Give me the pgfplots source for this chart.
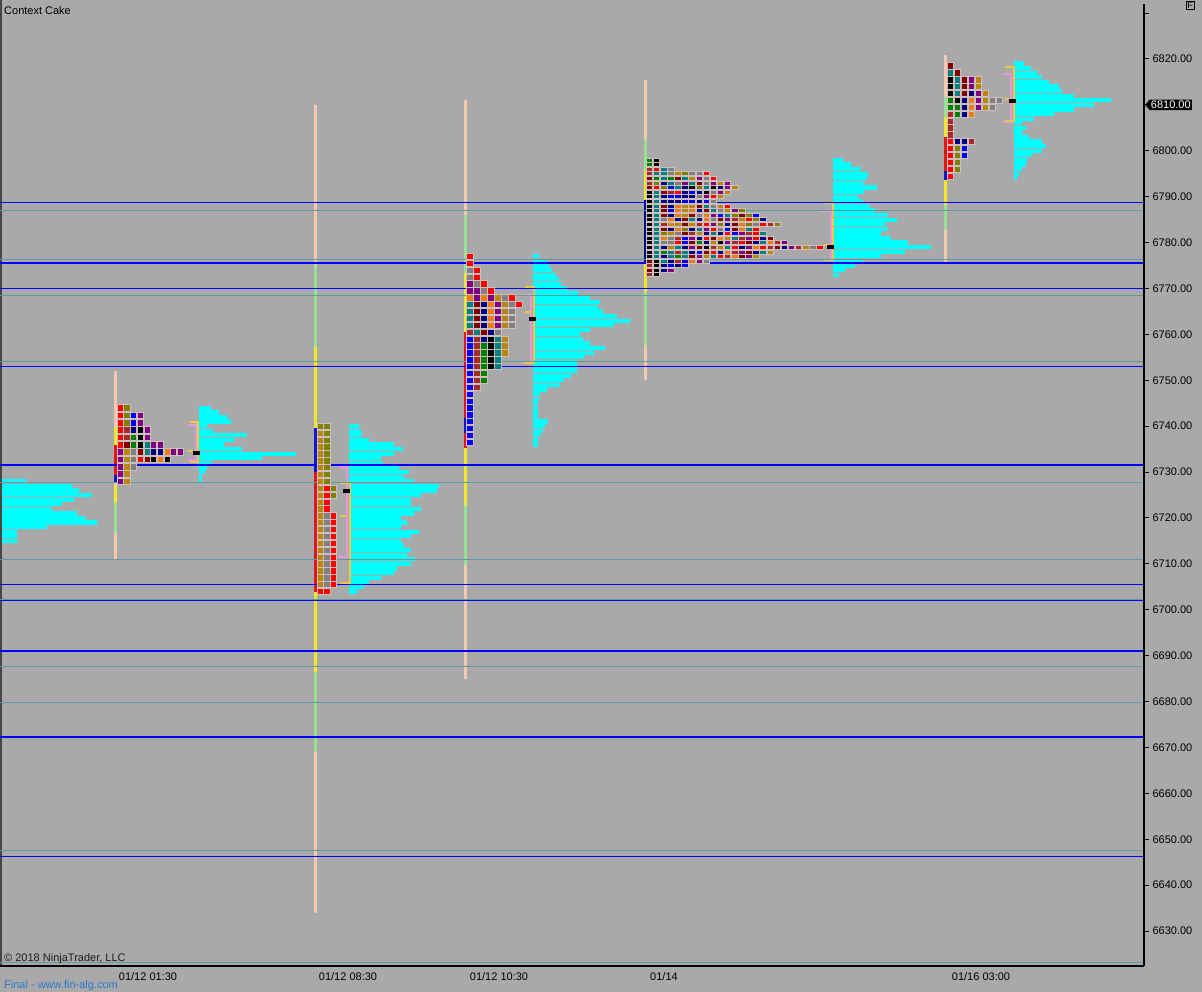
\documentclass[border=0pt]{standalone}
\usepackage{pgfplots}
\pgfplotsset{compat=1.18}
\usepackage{pgfplotstable}
\usepackage{fontspec}
\setmainfont{Liberation Sans}
\usetikzlibrary{shapes.symbols}

\definecolor{bg}{RGB}{169,169,169}
\definecolor{peach}{RGB}{245,200,180}
\definecolor{lgreen}{RGB}{150,225,150}
\definecolor{yel}{RGB}{240,232,40}
\definecolor{hblue}{RGB}{0,0,255}
\definecolor{hteal}{RGB}{95,155,158}
\definecolor{vaY}{RGB}{240,200,70}
\definecolor{vaP}{RGB}{232,150,222}
\definecolor{cellb}{RGB}{205,190,190}
\definecolor{vcyan}{RGB}{0,255,255}
\definecolor{vred}{RGB}{230,20,20}
\definecolor{vblue}{RGB}{20,20,200}
\definecolor{vnavy}{RGB}{0,0,140}
\definecolor{linkblue}{RGB}{45,120,205}

\definecolor{tc1}{RGB}{255,0,0}
\definecolor{tc2}{RGB}{128,128,0}
\definecolor{tc3}{RGB}{0,0,255}
\definecolor{tc4}{RGB}{128,0,128}
\definecolor{tc5}{RGB}{0,0,0}
\definecolor{tc6}{RGB}{0,128,0}
\definecolor{tc7}{RGB}{0,128,128}
\definecolor{tc8}{RGB}{128,128,128}
\definecolor{tc9}{RGB}{128,0,0}
\definecolor{tc10}{RGB}{235,125,20}
\definecolor{tc11}{RGB}{184,134,11}
\definecolor{tc12}{RGB}{0,0,128}
\definecolor{tc13}{RGB}{165,42,42}

\pgfdeclareplotmark{tpoA}{\pgfpathrectangle{\pgfpoint{-3.05pt}{-3.35pt}}{\pgfpoint{6.1pt}{6.7pt}}\pgfusepathqfillstroke}
\pgfdeclareplotmark{tpoB}{\pgfpathrectangle{\pgfpoint{-3.05pt}{-3.15pt}}{\pgfpoint{6.1pt}{6.3pt}}\pgfusepathqfillstroke}
\pgfdeclareplotmark{tpoC}{\pgfpathrectangle{\pgfpoint{-3.2pt}{-3.15pt}}{\pgfpoint{6.4pt}{6.3pt}}\pgfusepathqfillstroke}
\pgfdeclareplotmark{tpoD}{\pgfpathrectangle{\pgfpoint{-3.25pt}{-2pt}}{\pgfpoint{6.5pt}{4pt}}\pgfusepathqfillstroke}

\pgfplotsset{tpo/.style={scatter, only marks, point meta=explicit symbolic,
  mark options={line width=0.5pt, draw=cellb},
  scatter/classes={
    1={fill=tc1, draw=cellb}, 2={fill=tc2, draw=cellb}, 3={fill=tc3, draw=cellb},
    4={fill=tc4, draw=cellb}, 5={fill=tc5, draw=cellb}, 6={fill=tc6, draw=cellb},
    7={fill=tc7, draw=cellb}, 8={fill=tc8, draw=cellb}, 9={fill=tc9, draw=cellb},
    10={fill=tc10, draw=cellb}, 11={fill=tc11, draw=cellb}, 12={fill=tc12, draw=cellb},
    13={fill=tc13, draw=cellb}, 0={draw=none, fill=none}}}}

% ---------- TPO grids (colour index per column) ----------
\pgfplotstableread{
p c0 c1 c2 c3 c4 c5 c6 c7 c8 c9
6744.0 1 2 0 0 0 0 0 0 0 0
6742.4 1 2 3 4 0 0 0 0 0 0
6740.8 1 2 3 4 0 0 0 0 0 0
6739.2 1 13 12 5 4 0 0 0 0 0
6737.6 1 13 6 5 4 0 0 0 0 0
6736.0 1 9 6 5 7 4 4 0 0 0
6734.4 4 11 8 9 7 12 12 10 4 4
6732.8 4 11 8 1 9 5 10 5 0 0
6731.2 4 11 8 0 0 0 0 0 0 0
6729.6 4 11 0 0 0 0 0 0 0 0
6728.0 4 11 0 0 0 0 0 0 0 0
}\tpoAtab

\pgfplotstableread{
p c0 c1 c2
6740.0 2 2 0
6738.5 11 2 0
6737.0 11 2 0
6735.5 11 2 0
6734.0 11 2 0
6732.5 11 2 0
6731.0 11 2 0
6729.5 11 2 0
6728.0 11 2 0
6726.5 11 1 2
6725.0 11 1 2
6723.5 11 1 0
6722.0 11 1 0
6720.5 11 8 1
6719.0 11 8 1
6717.5 11 8 1
6716.0 11 8 1
6714.5 11 8 1
6713.0 11 8 1
6711.5 11 8 1
6710.0 11 8 1
6708.5 11 8 1
6707.0 11 8 1
6705.5 11 8 1
6704.0 1 1 0
}\tpoBtab

\pgfplotstableread{
p c0 c1 c2 c3 c4 c5 c6 c7
6777.0 1 0 0 0 0 0 0 0
6775.5 1 0 0 0 0 0 0 0
6774.0 8 1 0 0 0 0 0 0
6772.5 8 1 0 0 0 0 0 0
6771.0 4 8 1 0 0 0 0 0
6769.5 4 4 8 1 0 0 0 0
6768.0 10 4 10 4 11 8 1 0
6766.5 7 9 12 10 4 11 8 1
6765.0 7 9 12 10 4 11 8 0
6763.5 7 9 12 10 4 11 8 0
6762.0 7 9 12 10 4 11 8 0
6760.5 13 7 9 12 8 0 0 0
6759.0 3 13 12 5 7 11 0 0
6757.5 3 13 6 5 7 11 0 0
6756.0 3 13 6 5 7 11 0 0
6754.5 3 13 6 5 7 0 0 0
6753.0 3 13 6 5 7 0 0 0
6751.5 3 13 6 0 0 0 0 0
6750.0 3 13 6 0 0 0 0 0
6748.5 3 13 0 0 0 0 0 0
6747.0 3 0 0 0 0 0 0 0
6745.5 3 0 0 0 0 0 0 0
6744.0 3 0 0 0 0 0 0 0
6742.5 3 0 0 0 0 0 0 0
6741.0 3 0 0 0 0 0 0 0
6739.5 3 0 0 0 0 0 0 0
6738.0 3 0 0 0 0 0 0 0
6736.5 3 0 0 0 0 0 0 0
}\tpoCtab

\pgfplotstableread{
p c0 c1 c2 c3 c4 c5 c6 c7 c8 c9 c10 c11 c12 c13 c14 c15 c16 c17 c18 c19 c20 c21 c22 c23 c24
6798 6 5 0 0 0  0 0 0 0 0  0 0 0 0 0  0 0 0 0 0  0 0 0 0 0
6797 6 5 0 0 0  0 0 0 0 0  0 0 0 0 0  0 0 0 0 0  0 0 0 0 0
6796 13 1 7 8 0  0 0 0 0 0  0 0 0 0 0  0 0 0 0 0  0 0 0 0 0
6795 13 7 7 8 11  2 8 8 1 0  0 0 0 0 0  0 0 0 0 0  0 0 0 0 0
6794 9 6 7 6 9  7 11 4 8 1  0 0 0 0 0  0 0 0 0 0  0 0 0 0 0
6793 13 2 12 7 8  4 7 9 8 4  11 4 0 0 0  0 0 0 0 0  0 0 0 0 0
6792 9 1 2 3 7  12 5 2 7 5  12 4 11 0 0  0 0 0 0 0  0 0 0 0 0
6791 5 7 9 13 1  12 3 12 5 8  4 11 0 0 0  0 0 0 0 0  0 0 0 0 0
6790 5 7 12 3 3  12 12 8 4 1  11 0 0 0 0  0 0 0 0 0  0 0 0 0 0
6789 5 7 12 12 12  3 3 12 3 8  0 0 0 0 0  0 0 0 0 0  0 0 0 0 0
6788 5 7 9 12 10  11 11 9 7 8  11 1 0 0 0  0 0 0 0 0  0 0 0 0 0
6787 5 7 9 3 10  11 10 12 9 7  8 11 4 2 0  0 0 0 0 0  0 0 0 0 0
6786 5 7 9 12 10  11 9 8 10 4  3 7 2 9 2  3 0 0 0 0  0 0 0 0 0
6785 5 7 8 10 12  9 7 12 10 8  9 4 13 11 1  2 12 0 0 0  0 0 0 0 0
6784 5 7 13 10 11  9 11 13 1 4  2 12 9 10 2  8 1 13 2 0  0 0 0 0 0
6783 5 7 9 12 10  2 12 7 4 1  8 3 9 10 7  1 0 0 0 0  0 0 0 0 0
6782 5 7 2 11 8  9 13 11 12 7  12 1 3 4 13  1 7 0 0 0  0 0 0 0 0
6781 5 7 10 8 13  3 4 12 1 9  10 11 7 13 4  1 12 9 0 0  0 0 0 0 0
6780 5 7 8 8 1  3 9 6 12 11  5 4 13 1 9  12 7 10 13 4  0 0 0 0 0
6779 5 7 12 11 7  12 4 9 5 13  11 7 1 12 4  10 1 13 9 12  4 13 11 8 1
6778 5 7 6 7 13  7 12 3 9 1  12 10 13 4 9  12 7 11 0 0  0 0 0 0 0
6777 5 7 12 7 6  7 9 4 11 7  1 13 10 9 4  11 0 0 0 0  0 0 0 0 0
6776 9 5 7 12 13  3 10 4 8 0  0 0 0 0 0  0 0 0 0 0  0 0 0 0 0
6775 13 5 12 3 12  3 0 0 0 0  0 0 0 0 0  0 0 0 0 0  0 0 0 0 0
6774 9 5 12 4 0  0 0 0 0 0  0 0 0 0 0  0 0 0 0 0  0 0 0 0 0
6773 13 5 0 0 0  0 0 0 0 0  0 0 0 0 0  0 0 0 0 0  0 0 0 0 0
}\tpoDtab

\pgfplotstableread{
p c0 c1 c2 c3 c4 c5 c6 c7
6818.5 9 0 0 0 0 0 0 0
6817.0 7 9 0 0 0 0 0 0
6815.5 5 7 9 4 11 0 0 0
6814.0 5 7 9 4 11 0 0 0
6812.5 5 7 9 12 4 11 0 0
6811.0 6 5 12 10 4 11 8 8
6809.5 6 6 12 10 4 11 8 0
6808.0 13 6 12 10 0 0 0 0
6806.5 13 0 0 0 0 0 0 0
6805.0 13 0 0 0 0 0 0 0
6803.5 13 0 0 0 0 0 0 0
6802.0 1 12 12 13 0 0 0 0
6800.5 1 2 3 0 0 0 0 0
6799.0 1 2 3 0 0 0 0 0
6797.5 1 2 0 0 0 0 0 0
6796.0 1 2 0 0 0 0 0 0
6794.5 1 0 0 0 0 0 0 0
}\tpoEtab

% ---------- volume profiles (price, bar length) ----------
\pgfplotstableread{
p len
6728 25
6727 70
6726 77
6725 90
6724 72
6723 60
6722 50
6721 75
6720 83
6719 95
6718 45
6717 15
6716 15
6715 15
}\volZ

\pgfplotstableread{
p len
6744 12
6743 20
6742 28
6741 32
6740 8
6739 14
6738 48
6737 35
6736 25
6735 43
6734 97
6733 63
6732 13
6731 8
6730 6
6729 3
6728 3
}\volA

\pgfplotstableread{
p len
6740 10
6739 12
6738 13
6737 20
6736 45
6735 54
6734 45
6733 32
6732 34
6731 50
6730 60
6729 55
6728 65
6727 90
6726 88
6725 72
6724 62
6723 62
6722 72
6721 65
6720 52
6719 58
6718 52
6717 70
6716 62
6715 52
6714 55
6713 62
6712 58
6711 66
6710 62
6709 48
6708 45
6707 32
6706 20
6705 15
6704 8
}\volB

\pgfplotstableread{
p len
6777 6
6776 14
6775 16
6774 19
6773 23
6772 26
6771 28
6770 34
6769 45
6768 57
6767 67
6766 65
6765 70
6764 84
6763 97
6762 81
6761 57
6760 47
6759 50
6758 57
6757 72
6756 61
6755 51
6754 44
6753 44
6752 44
6751 38
6750 31
6749 27
6748 14
6747 7
6746 6
6745 5
6744 5
6743 5
6742 5
6741 15
6740 12
6739 10
6738 7
6737 5
6736 5
}\volC

\pgfplotstableread{
p len
6798 10
6797 18
6796 28
6795 35
6794 34
6793 30
6792 44
6791 31
6790 25
6789 30
6788 36
6787 42
6786 55
6785 64
6784 52
6783 55
6782 48
6781 58
6780 75
6779 98
6778 72
6777 48
6776 30
6775 22
6774 12
6773 6
}\volD

\pgfplotstableread{
p len
6819 10
6818 17
6817 23
6816 28
6815 35
6814 45
6813 48
6812 60
6811 97
6810 80
6809 60
6808 40
6807 20
6806 8
6805 12
6804 8
6803 15
6802 28
6801 32
6800 28
6799 18
6798 13
6797 12
6796 8
6795 5
6794 3
}\volE

\newcommand{\vseg}[4]{\addplot[#4, line width=3pt] coordinates {(#1,#2) (#1,#3)};}

\begin{document}
\begin{tikzpicture}
\fill[bg] (0pt,0pt) rectangle (1202pt,992pt);
\useasboundingbox (0pt,0pt) rectangle (1202pt,992pt);
\draw[color={rgb,255:red,70;green,70;blue,70}, line width=1.5pt] (0.75pt,26pt) -- (0.75pt,992pt);
\begin{axis}[
  at={(0pt,26pt)}, anchor=south west,
  scale only axis, width=1144pt, height=962pt,
  xmin=0, xmax=1144, ymin=6622.4, ymax=6831.98,
  axis x line*=bottom, axis y line*=right,
  axis line style={-, black, line width=1.3pt},
  xtick={148,348,499,664,981},
  xticklabels={01/12 01:30, 01/12 08:30, 01/12 10:30, 01/14, 01/16 03:00},
  x tick style={draw=none},
  xticklabel style={yshift=2pt},
  ytick={6630,6640,...,6820},
  extra y ticks={6830}, extra y tick labels={},
  y tick style={black, line width=1pt},
  tick align=outside, major tick length=5pt,
  tick label style={font=\fontsize{11}{13}\selectfont, text=black},
  /pgf/number format/assume math mode=true,
  yticklabel style={/pgf/number format/.cd, fixed, fixed zerofill, precision=2, 1000 sep={}},
  scaled y ticks=false,
  clip=false,
]
% volume profiles
\addplot[vcyan, line width=4.2pt, quiver={u=\thisrow{len}, v=0}, -] table[x expr=1.5, y=p] {\volZ};
\addplot[vcyan, line width=4.2pt, quiver={u=\thisrow{len}, v=0}, -] table[x expr=198.5, y=p] {\volA};
\addplot[vcyan, line width=4.2pt, quiver={u=\thisrow{len}, v=0}, -] table[x expr=348.5, y=p] {\volB};
\addplot[vcyan, line width=4.2pt, quiver={u=\thisrow{len}, v=0}, -] table[x expr=533, y=p] {\volC};
\addplot[vcyan, line width=4.2pt, quiver={u=\thisrow{len}, v=0}, -] table[x expr=832.5, y=p] {\volD};
\addplot[vcyan, line width=4.2pt, quiver={u=\thisrow{len}, v=0}, -] table[x expr=1013.5, y=p] {\volE};

% TPO letters
\pgfplotsinvokeforeach{0,...,9}{
  \addplot[tpo, mark=tpoA, restrict expr to domain={\thisrow{c#1}}{0.5:99}]
    table[x expr=120+#1*6.7, y=p, meta=c#1] {\tpoAtab};
}
\pgfplotsinvokeforeach{0,...,2}{
  \addplot[tpo, mark=tpoB, restrict expr to domain={\thisrow{c#1}}{0.5:99}]
    table[x expr=320+#1*6.7, y=p, meta=c#1] {\tpoBtab};
}
\pgfplotsinvokeforeach{0,...,7}{
  \addplot[tpo, mark=tpoC, restrict expr to domain={\thisrow{c#1}}{0.5:99}]
    table[x expr=469.8+#1*7, y=p, meta=c#1] {\tpoCtab};
}
\pgfplotsinvokeforeach{0,...,24}{
  \addplot[tpo, mark=tpoD, restrict expr to domain={\thisrow{c#1}}{0.5:99}]
    table[x expr=649.3+#1*7.1, y=p, meta=c#1] {\tpoDtab};
}
\pgfplotsinvokeforeach{0,...,7}{
  \addplot[tpo, mark=tpoC, restrict expr to domain={\thisrow{c#1}}{0.5:99}]
    table[x expr=950+#1*7, y=p, meta=c#1] {\tpoEtab};
}

% session range lines
\vseg{115}{6752.0}{6710.85}{peach}
\vseg{115}{6739.8}{6735.9}{yel}
\vseg{115}{6735.9}{6729.4}{vred}
\vseg{115}{6729.4}{6727.8}{vblue}
\vseg{115}{6727.2}{6723.3}{yel}
\vseg{115}{6723.3}{6716.7}{lgreen}

\vseg{315.5}{6810.0}{6633.9}{peach}
\vseg{315.5}{6775.1}{6757.3}{lgreen}
\vseg{315.5}{6757.3}{6739.6}{yel}
\vseg{315.5}{6739.6}{6730.0}{vblue}
\vseg{315.5}{6730.0}{6703.9}{vred}
\vseg{315.5}{6703.9}{6686.4}{yel}
\vseg{315.5}{6686.4}{6669.0}{lgreen}

\vseg{465}{6811.1}{6684.9}{peach}
\vseg{465}{6786.0}{6773.4}{lgreen}
\vseg{465}{6773.4}{6760.5}{yel}
\vseg{465}{6760.5}{6735.3}{vred}
\vseg{465}{6741.8}{6738.5}{vblue}
\vseg{465}{6735.3}{6722.8}{yel}
\vseg{465}{6722.8}{6709.8}{lgreen}

\vseg{645}{6815.4}{6750.1}{peach}
\vseg{645}{6802.4}{6795.8}{lgreen}
\vseg{645}{6795.8}{6789.3}{yel}
\vseg{645}{6789.3}{6775.8}{vnavy}
\vseg{645}{6775.8}{6769.2}{yel}
\vseg{645}{6769.2}{6757.7}{lgreen}

\vseg{945.5}{6820.9}{6775.8}{peach}
\vseg{945.5}{6811.7}{6807.4}{lgreen}
\vseg{945.5}{6807.4}{6803.0}{yel}
\vseg{945.5}{6803.0}{6793.6}{vred}
\vseg{945.5}{6795.7}{6793.6}{vblue}
\vseg{945.5}{6793.6}{6788.2}{yel}
\vseg{945.5}{6788.2}{6782.7}{lgreen}

% value area brackets and POC marks
\addplot[vaP, line width=2pt] coordinates {(187,6740.3) (196,6740.3) (196,6732.6) (187,6732.6)};
\addplot[vaY, line width=2pt] coordinates {(190,6740.9) (197.8,6740.9) (197.8,6732.2) (190,6732.2)};
\addplot[vaY, line width=1.5pt] coordinates {(188,6734.6) (193,6734.6)};
\addplot[black, line width=3.5pt] coordinates {(192.5,6734.2) (199.5,6734.2)};

\addplot[vaP, line width=2pt] coordinates {(338,6731.1) (347,6731.1) (347,6711.5) (338,6711.5)};
\addplot[vaY, line width=2pt] coordinates {(340,6727.6) (349.5,6727.6) (349.5,6705.8) (340,6705.8)};
\addplot[vaY, line width=1.5pt] coordinates {(340,6720.4) (346,6720.4)};
\addplot[black, line width=3.5pt] coordinates {(343,6725.9) (350,6725.9)};

\addplot[vaP, line width=2pt] coordinates {(522,6768.6) (531,6768.6) (531,6753.8) (522,6753.8)};
\addplot[vaY, line width=2pt] coordinates {(525,6770.3) (533.5,6770.3) (533.5,6753.8) (525,6753.8)};
\addplot[vaY, line width=1.5pt] coordinates {(525,6764.9) (531,6764.9)};
\addplot[black, line width=3.5pt] coordinates {(529,6763.4) (535.5,6763.4)};

\addplot[vaP, line width=2pt] coordinates {(820,6786.9) (831,6786.9) (831,6776.2) (822,6776.2)};
\addplot[vaY, line width=2pt] coordinates {(824,6788.6) (832.5,6788.6) (832.5,6776.2) (824,6776.2)};
\addplot[vaY, line width=1.5pt] coordinates {(824,6779.5) (830,6779.5)};
\addplot[black, line width=3.5pt] coordinates {(827,6779.0) (834,6779.0)};

\addplot[vaP, line width=2pt] coordinates {(1003,6816.7) (1011,6816.7) (1011,6806.3) (1003,6806.3)};
\addplot[vaY, line width=2pt] coordinates {(1005,6818.3) (1013.5,6818.3) (1013.5,6806.5) (1005,6806.5)};
\addplot[vaY, line width=1.5pt] coordinates {(1005,6811.3) (1010,6811.3)};
\addplot[black, line width=3.5pt] coordinates {(1009,6810.8) (1015.5,6810.8)};

% horizontal reference levels (teal, thin)
\pgfplotsinvokeforeach{6787.0,6776.25,6768.5,6754.0,6727.75,6711.0,6702.25,6687.75,6679.75,6647.5,6623.25}{
  \addplot[hteal, line width=1pt] coordinates {(0,#1) (1143,#1)};
}
% horizontal reference levels (blue)
\pgfplotsinvokeforeach{6788.75,6775.5,6770.0,6753.0,6731.5,6705.5,6702.0,6691.0,6672.25,6646.25}{
  \addplot[hblue, line width=1.5pt] coordinates {(0,#1) (1143,#1)};
}

\coordinate (lastpx) at (axis cs:1144,6810);
\end{axis}
\node[signal, signal to=west, signal pointer angle=100, fill=black, text=white, inner sep=1.3pt,
      anchor=west, font=\fontsize{11}{13}\selectfont] at ([xshift=1pt]lastpx) {6810.00};
\node[draw=black, line width=0.8pt, inner sep=1pt, anchor=north west, font=\fontsize{9}{10}\selectfont] at (1186pt,991pt) {F};
\node[anchor=west, inner sep=0pt, font=\fontsize{11}{13}\selectfont, text=black] at (4pt,981pt) {Context Cake};
\node[anchor=west, inner sep=0pt, font=\fontsize{11}{13}\selectfont, text={rgb,255:red,30;green,30;blue,30}] at (4pt,33pt) {© 2018 NinjaTrader, LLC};
\node[anchor=west, inner sep=0pt, font=\fontsize{11}{13}\selectfont, text=linkblue] at (4pt,6pt) {Final - www.fin-alg.com};
\end{tikzpicture}
\end{document}
